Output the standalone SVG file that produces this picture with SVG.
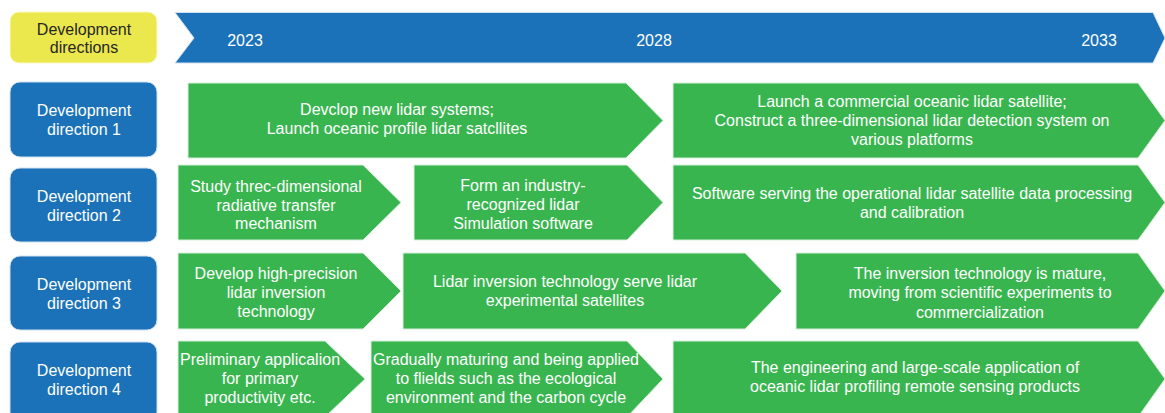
<svg xmlns="http://www.w3.org/2000/svg" width="1165" height="413" viewBox="0 0 1165 413">
  <style>
    text { font-family: "Liberation Sans", Arial, sans-serif; font-size: 16px; text-anchor: middle; fill: #ffffff; }
    .dark { fill: #262626; }
    .yellow { fill: #ebe84d; stroke: #fbf9c8; stroke-width: 1; }
    .blue { fill: #1b72b8; stroke: #cfe0f0; stroke-width: 1; }
    .green { fill: #39b54f; stroke: #d6efd9; stroke-width: 1; }
  </style>

  <!-- header row -->
  <g id="header">
    <rect class="yellow" x="10" y="12" width="147" height="51" rx="9"/>
    <text class="dark" x="84" y="35">Development</text>
    <text class="dark" x="84" y="53">directions</text>
  </g>
  <g id="timeline">
    <polygon class="blue" points="175,12.5 1153,12.5 1165,38 1153,63 175,63 194,38"/>
    <text x="245" y="46">2023</text>
    <text x="654" y="46">2028</text>
    <text x="1099" y="46">2033</text>
  </g>

  <!-- direction labels -->
  <g id="dir1">
    <rect class="blue" x="10" y="82" width="147" height="75" rx="10"/>
    <text x="84" y="116">Development</text>
    <text x="84" y="135">direction 1</text>
  </g>
  <g id="dir2">
    <rect class="blue" x="10" y="168" width="147" height="74" rx="10"/>
    <text x="84" y="202">Development</text>
    <text x="84" y="221">direction 2</text>
  </g>
  <g id="dir3">
    <rect class="blue" x="10" y="256" width="147" height="74" rx="10"/>
    <text x="84" y="290">Development</text>
    <text x="84" y="309">direction 3</text>
  </g>
  <g id="dir4">
    <rect class="blue" x="10" y="342" width="147" height="80" rx="10"/>
    <text x="84" y="376">Development</text>
    <text x="84" y="395">direction 4</text>
  </g>

  <!-- row 1 -->
  <g id="r1a">
    <polygon class="green" points="188,83 626,83 663,120.5 626,158 188,158"/>
    <text x="397" y="115">Devclop new lidar systems;</text>
    <text x="397" y="134">Launch oceanic profile lidar satcllites</text>
  </g>
  <g id="r1b">
    <polygon class="green" points="673,83 1138,83 1165,120.5 1138,158 673,158"/>
    <text x="912" y="107">Launch a commercial oceanic lidar satellite;</text>
    <text x="912" y="126">Construct a three-dimensional lidar detection system on</text>
    <text x="912" y="145">various platforms</text>
  </g>

  <!-- row 2 -->
  <g id="r2a">
    <polygon class="green" points="178,165 363,165 401,202.5 363,240 178,240"/>
    <text x="276" y="192">Study threc-dimensional</text>
    <text x="276" y="211">radiative transfer</text>
    <text x="276" y="229">mechanism</text>
  </g>
  <g id="r2b">
    <polygon class="green" points="414,165 627,165 663,202.5 627,240 414,240"/>
    <text x="523" y="191">Form an industry-</text>
    <text x="523" y="210">recognized lidar</text>
    <text x="523" y="229">Simulation software</text>
  </g>
  <g id="r2c">
    <polygon class="green" points="673,165 1138,165 1165,202.5 1138,240 673,240"/>
    <text x="912" y="199">Software serving the operational lidar satellite data processing</text>
    <text x="912" y="218">and calibration</text>
  </g>

  <!-- row 3 -->
  <g id="r3a">
    <polygon class="green" points="178,253 363,253 401,291 363,329 178,329"/>
    <text x="276" y="279">Develop high-precision</text>
    <text x="276" y="298">lidar inversion</text>
    <text x="276" y="317">technology</text>
  </g>
  <g id="r3b">
    <polygon class="green" points="403,253 745,253 782,291 745,329 403,329"/>
    <text x="565" y="287">Lidar inversion technology serve lidar</text>
    <text x="565" y="306">experimental satellites</text>
  </g>
  <g id="r3c">
    <polygon class="green" points="796,253 1138,253 1165,291 1138,329 796,329"/>
    <text x="980" y="279">The inversion technology is mature,</text>
    <text x="980" y="298">moving from scientific experiments to</text>
    <text x="980" y="318">commercialization</text>
  </g>

  <!-- row 4 -->
  <g id="r4a">
    <polygon class="green" points="178,341 325,341 365,379 325,417 178,417"/>
    <text x="260" y="365">Preliminary applicalion</text>
    <text x="260" y="384">for primary</text>
    <text x="260" y="403">productivity etc.</text>
  </g>
  <g id="r4b">
    <polygon class="green" points="371,341 627,341 663,379 627,417 371,417"/>
    <text x="506" y="365">Gradually maturing and being applied</text>
    <text x="506" y="384">to flields such as the ecological</text>
    <text x="506" y="403">environment and the carbon cycle</text>
  </g>
  <g id="r4c">
    <polygon class="green" points="673,341 1138,341 1165,379 1138,417 673,417"/>
    <text x="915" y="373">The engineering and large-scale application of</text>
    <text x="915" y="392">oceanic lidar profiling remote sensing products</text>
  </g>

  <g id="connectors"/>
</svg>
